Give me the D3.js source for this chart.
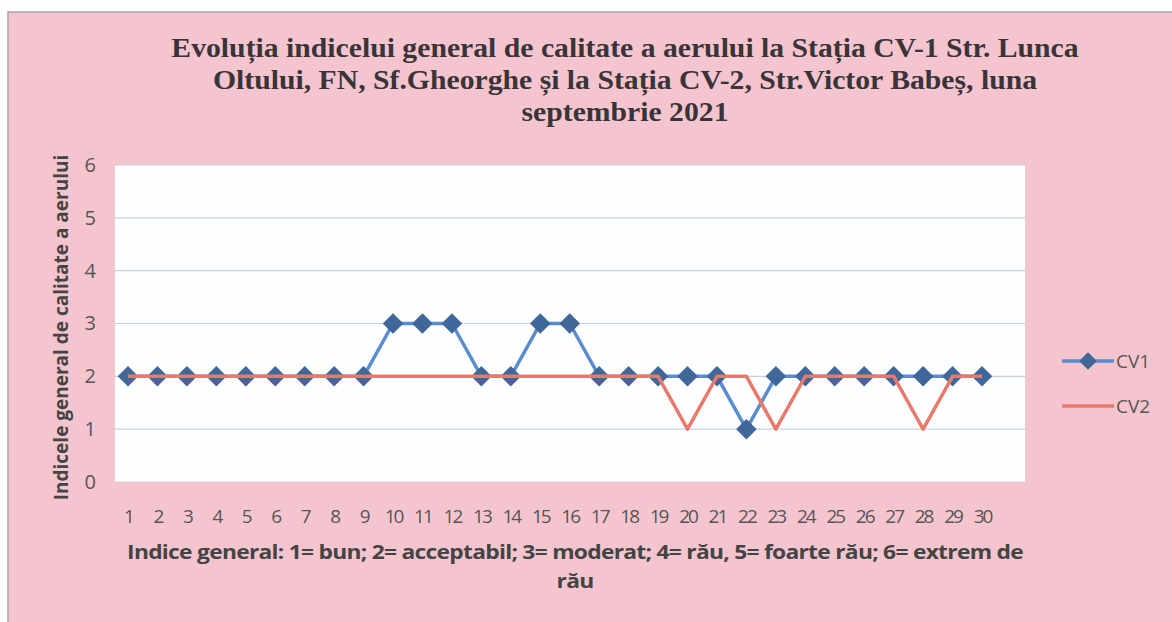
<!DOCTYPE html>
<html>
<head>
<meta charset="utf-8">
<script src="https://cdn.jsdelivr.net/npm/d3@7"></script>
<style>
  html, body { margin: 0; padding: 0; background: #fdfdfd; }
  svg { display: block; }
</style>
</head>
<body>
<svg id="chart" width="1172" height="622"></svg>
<script>
// ---- data ----
var days = d3.range(1, 31);
var cv1 = [2, 2, 2, 2, 2, 2, 2, 2, 2, 3, 3, 3, 2, 2, 3, 3, 2, 2, 2, 2, 2, 1, 2, 2, 2, 2, 2, 2, 2, 2];
var cv2 = [2, 2, 2, 2, 2, 2, 2, 2, 2, 2, 2, 2, 2, 2, 2, 2, 2, 2, 2, 1, 2, 2, 1, 2, 2, 2, 2, 1, 2, 2];
var yTicks = [0, 1, 2, 3, 4, 5, 6];
var titleLines = [
  'Evoluția indicelui general de calitate a aerului la Stația CV-1 Str. Lunca',
  'Oltului, FN, Sf.Gheorghe și la Stația CV-2, Str.Victor Babeș, luna',
  'septembrie 2021'
];
var footLines = [
  'Indice general: 1= bun; 2= acceptabil; 3= moderat; 4= rău, 5= foarte rău; 6= extrem de',
  'rău'
];

var sans = '"Open Sans", "Liberation Sans", sans-serif';
var svg = d3.select('#chart');

// chart background (scanned pink)
svg.append('rect')
  .attr('x', 8).attr('y', 12)
  .attr('width', 1172).attr('height', 622)
  .attr('fill', '#f5c5cf')
  .attr('stroke', '#a9a3b3')
  .attr('stroke-width', 1.5);

var plot = { left: 115, top: 165, right: 1025, bottom: 482 };

// plot area
svg.append('rect')
  .attr('x', plot.left).attr('y', plot.top)
  .attr('width', plot.right - plot.left).attr('height', plot.bottom - plot.top)
  .attr('fill', '#fdfeff');

var x = d3.scalePoint()
  .domain(days)
  .range([128, 982]);

var y = d3.scaleLinear()
  .domain([0, 6])
  .range([plot.bottom, plot.top]);

// gridlines
svg.append('g')
  .selectAll('line')
  .data(yTicks.filter(function(d) { return d > 0; }))
  .enter().append('line')
  .attr('x1', plot.left).attr('x2', plot.right)
  .attr('y1', function(d) { return y(d); })
  .attr('y2', function(d) { return y(d); })
  .attr('stroke', '#c9cfdc')
  .attr('stroke-width', 1.2);

svg.append('line')
  .attr('x1', plot.left).attr('x2', plot.right)
  .attr('y1', plot.bottom).attr('y2', plot.bottom)
  .attr('stroke', '#d8d4dc')
  .attr('stroke-width', 1);

// y axis
var yAxis = svg.append('g')
  .attr('transform', 'translate(' + plot.left + ',0)')
  .call(d3.axisLeft(y).tickValues(yTicks).tickFormat(d3.format('d')).tickSize(0).tickPadding(19));
yAxis.select('.domain').remove();
yAxis.selectAll('text')
  .attr('font-family', sans)
  .attr('font-size', 20)
  .attr('fill', '#555');

// x axis
var xAxis = svg.append('g')
  .attr('transform', 'translate(0,' + plot.bottom + ')')
  .call(d3.axisBottom(x).tickSize(0).tickPadding(28));
xAxis.select('.domain').remove();
xAxis.selectAll('text')
  .attr('font-family', sans)
  .attr('font-size', 19)
  .attr('letter-spacing', -2)
  .attr('fill', '#555');

var line = d3.line()
  .x(function(d, i) { return x(days[i]); })
  .y(function(d) { return y(d); });

svg.append('path')
  .datum(cv1)
  .attr('d', line)
  .attr('fill', 'none')
  .attr('stroke', '#5a8ccf')
  .attr('stroke-width', 3.5)
  .attr('stroke-linejoin', 'round');

svg.append('g')
  .selectAll('path')
  .data(cv1)
  .enter().append('path')
  .attr('d', d3.symbol().type(d3.symbolDiamond2).size(270))
  .attr('transform', function(d, i) { return 'translate(' + x(days[i]) + ',' + y(d) + ')'; })
  .attr('fill', '#3f679a');

svg.append('path')
  .datum(cv2)
  .attr('d', line)
  .attr('fill', 'none')
  .attr('stroke', '#e77a6c')
  .attr('stroke-width', 3.5)
  .attr('stroke-linejoin', 'round');

// title (scanned copy is slightly stretched horizontally)
svg.append('g')
  .attr('transform', 'translate(625,0) scale(1.1,1)')
  .selectAll('text')
  .data(titleLines)
  .enter().append('text')
  .attr('x', 0)
  .attr('y', function(d, i) { return 57 + i * 32; })
  .attr('text-anchor', 'middle')
  .attr('font-family', '"Liberation Serif", "Times New Roman", serif')
  .attr('font-weight', 'bold')
  .attr('font-size', 27)
  .attr('fill', '#3a3438')
  .text(function(d) { return d; });

// y title
svg.append('text')
  .attr('transform', 'translate(68,' + ((plot.top + plot.bottom) / 2 + 4) + ') rotate(-90)')
  .attr('text-anchor', 'middle')
  .attr('font-family', sans)
  .attr('font-weight', 'bold')
  .attr('font-size', 19)
  .attr('fill', '#444')
  .text('Indicele general  de calitate a aerului');

// footnote
svg.append('g')
  .attr('transform', 'translate(575,0) scale(1.2,1)')
  .selectAll('text')
  .data(footLines)
  .enter().append('text')
  .attr('x', 0)
  .attr('y', function(d, i) { return 559 + i * 29; })
  .attr('text-anchor', 'middle')
  .attr('font-family', sans)
  .attr('font-weight', 'bold')
  .attr('font-size', 19)
  .attr('letter-spacing', -0.6)
  .attr('fill', '#444')
  .text(function(d) { return d; });

// legend
var legend = svg.append('g')
  .selectAll('g')
  .data([{ name: 'CV1', color: '#5a8ccf', marker: true }, { name: 'CV2', color: '#e77a6c', marker: false }])
  .enter().append('g')
  .attr('transform', function(d, i) { return 'translate(1062,' + (361 + i * 45) + ')'; });

legend.append('line')
  .attr('x1', 0).attr('x2', 52)
  .attr('stroke', function(d) { return d.color; })
  .attr('stroke-width', 3.5);

legend.filter(function(d) { return d.marker; })
  .append('path')
  .attr('d', d3.symbol().type(d3.symbolDiamond2).size(200))
  .attr('transform', 'translate(26,0)')
  .attr('fill', '#3f679a');

legend.append('text')
  .attr('x', 54)
  .attr('dy', '0.35em')
  .attr('font-family', sans)
  .attr('font-size', 19)
  .attr('fill', '#555')
  .text(function(d) { return d.name; });
</script>
</body>
</html>
